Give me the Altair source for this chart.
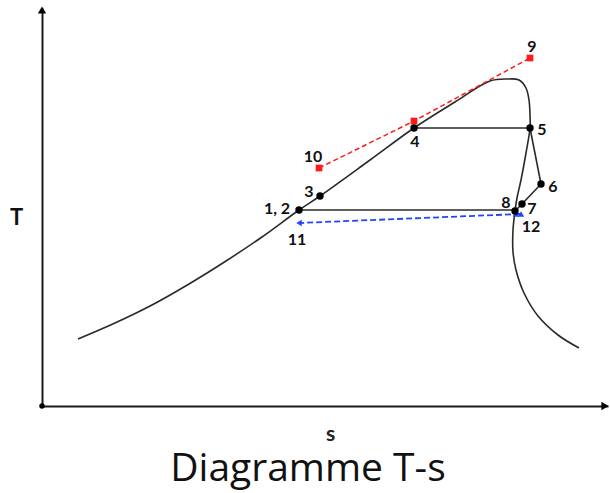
import altair as alt
import pandas as pd

# Saturation dome (s, T) (arbitrary units)
dome_s = [78, 115, 152, 189, 226, 262, 299, 320, 370, 414, 455, 490, 507, 519, 526, 529, 530, 530,
          526, 521, 517, 515, 513, 513, 516, 524, 538, 558, 579]
dome_T = [154, 170, 188, 209, 232, 256, 283, 297, 333, 365, 391, 412, 414, 413, 405, 393, 378, 365,
          340, 313, 295, 282, 263, 241, 223, 200, 177, 158, 145]

# Cycle state points
pt_label = ["1, 2", "3", "4", "5", "6", "7", "8"]
pt_s = [299, 320, 414, 530, 541, 522, 515]
pt_T = [283, 297, 365, 365, 309, 289, 282]

# Process segments (from -> to)
seg_s = [414, 299, 530, 541, 522]
seg_T = [365, 283, 365, 309, 289]
seg_s2 = [530, 515, 541, 522, 515]
seg_T2 = [365, 283, 309, 289, 282]

# Hot stream (red)
hot_label = ["10", "", "9"]
hot_s = [319, 414, 530]
hot_T = [325, 372, 435]

# Cold stream (blue)
cold_label = ["12", "11"]
cold_s = [520, 299]
cold_T = [279, 270]

# Label positions
lab_text = ["1, 2", "3", "4", "5", "6", "7", "8", "9", "10", "11", "12"]
lab_s = [277, 309, 415, 542, 553, 532, 506, 532, 313, 297, 531]
lab_T = [284, 301, 351, 363, 306, 284, 290, 446, 336, 253, 266]

XD = [42, 608]
YD = [87, 485]
xs = alt.Scale(domain=XD, nice=False, zero=False)
ys = alt.Scale(domain=YD, nice=False, zero=False)

dome = pd.DataFrame({"s": dome_s, "T": dome_T, "o": list(range(len(dome_s)))})
pts = pd.DataFrame({"s": pt_s, "T": pt_T, "l": pt_label})
segs = pd.DataFrame({"s": seg_s, "T": seg_T, "s2": seg_s2, "T2": seg_T2})
hot = pd.DataFrame({"s": hot_s, "T": hot_T, "l": hot_label, "o": [0, 1, 2]})
cold = pd.DataFrame({"s": cold_s, "T": cold_T, "l": cold_label, "o": [0, 1]})
labs = pd.DataFrame({"s": lab_s, "T": lab_T, "t": lab_text})

X = alt.X("s:Q", scale=xs, axis=alt.Axis(title="s", labels=False, ticks=False, grid=False,
                                          domainColor="#1a1a1a", domainWidth=2,
                                          titleFontSize=21, titleFont="Lato", titleFontWeight="bold",
                                          titleColor="#222", titleX=288, titleY=28,
                                          titleBaseline="middle", titleAlign="center"))
Y = alt.Y("T:Q", scale=ys, axis=alt.Axis(title="T", labels=False, ticks=False, grid=False,
                                          domainColor="#1a1a1a", domainWidth=2,
                                          titleFontSize=22, titleFont="Lato", titleFontWeight="bold",
                                          titleAngle=0, titleX=-26, titleY=209, titleAlign="center",
                                          titleBaseline="middle", titleColor="#111"))

base_dome = alt.Chart(dome).mark_line(color="#2a2a2a", strokeWidth=1.6, interpolate="catmull-rom").encode(
    x=X, y=Y, order="o:Q")

seg_layer = alt.Chart(segs).mark_rule(color="#2a2a2a", strokeWidth=1.6).encode(
    x="s:Q", y="T:Q", x2="s2:Q", y2="T2:Q")

hot_line = alt.Chart(hot).mark_line(color="#ff1a1a", strokeWidth=1.5, strokeDash=[5, 3]).encode(
    x="s:Q", y="T:Q", order="o:Q")
hot_pts = alt.Chart(hot).mark_point(shape="square", filled=True, color="#ff1a1a", size=45, opacity=1).encode(
    x="s:Q", y="T:Q")

cold_line = alt.Chart(cold).mark_line(color="#2244ff", strokeWidth=1.8, strokeDash=[6, 3]).encode(
    x="s:Q", y="T:Q", order="o:Q")
cold_head = alt.Chart(pd.DataFrame({"s": [cold_s[1]], "T": [cold_T[1]]})).mark_point(
    shape="triangle-left", filled=True, color="#2244ff", size=40, opacity=1).encode(x="s:Q", y="T:Q")
cold_tri = alt.Chart(pd.DataFrame({"s": [516, 521], "T": [279, 279]})).mark_point(
    shape="triangle-up", filled=True, color="#2244ff", size=40, opacity=1).encode(x="s:Q", y="T:Q")

pt_layer = alt.Chart(pts).mark_circle(color="black", size=55, opacity=1).encode(x="s:Q", y="T:Q")

lab_layer = alt.Chart(labs).mark_text(font="Lato", fontWeight="bold", fontSize=16, color="#111",
                                      baseline="middle", align="center").encode(
    x="s:Q", y="T:Q", text="t:N")

# axis arrowheads and origin
arrow_up = alt.Chart(pd.DataFrame({"s": [XD[0]], "T": [YD[1] - 2]})).mark_point(
    shape="triangle-up", filled=True, color="black", size=70, opacity=1, clip=False).encode(x="s:Q", y="T:Q")
arrow_right = alt.Chart(pd.DataFrame({"s": [XD[1] - 3], "T": [YD[0]]})).mark_point(
    shape="triangle-right", filled=True, color="black", size=70, opacity=1, clip=False).encode(x="s:Q", y="T:Q")
origin = alt.Chart(pd.DataFrame({"s": [XD[0]], "T": [YD[0]]})).mark_circle(
    color="black", size=30, opacity=1, clip=False).encode(x="s:Q", y="T:Q")

chart = alt.layer(
    base_dome, seg_layer, hot_line, hot_pts, cold_line, cold_head, cold_tri, pt_layer, lab_layer,
    arrow_up, arrow_right, origin
).properties(
    width=XD[1] - XD[0],
    height=YD[1] - YD[0],
    title=alt.TitleParams("Diagramme T-s", orient="bottom", anchor="middle", font="Open Sans",
                          fontSize=39, fontWeight="normal", color="#111", offset=6, dx=-17),
    padding={"left": 42, "top": 8, "right": 2, "bottom": 87},
    autosize=alt.AutoSizeParams(type="none"),
    background="white",
).configure_view(stroke=None)

chart.save("out.html", embed_options={"renderer": "svg", "actions": False})
